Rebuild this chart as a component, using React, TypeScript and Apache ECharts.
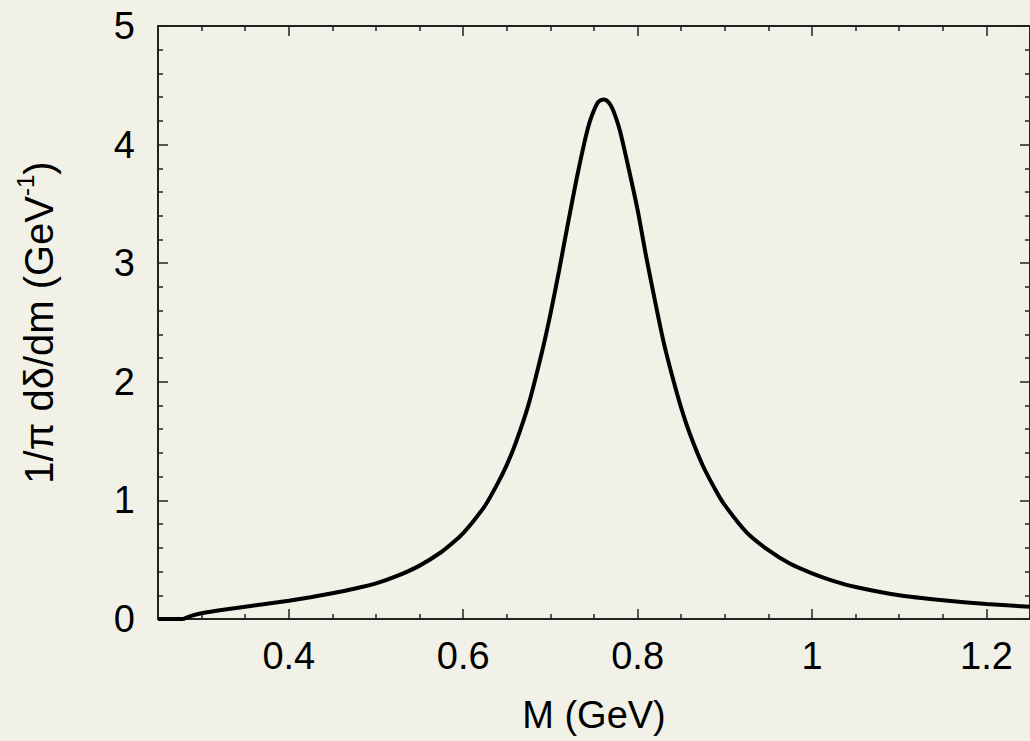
import React, { useEffect, useRef } from "react";
import * as echarts from "echarts";

// Mass values (GeV) and spectral function values (GeV^-1)
const massGeV: number[] = [
  0.25, 0.27, 0.278, 0.285, 0.29, 0.30, 0.325, 0.35, 0.375, 0.40, 0.425, 0.45,
  0.475, 0.50, 0.525, 0.55, 0.575, 0.59, 0.60, 0.61, 0.625, 0.64, 0.65, 0.66,
  0.675, 0.69, 0.70, 0.71, 0.72, 0.73, 0.74, 0.745, 0.75, 0.755, 0.761, 0.765,
  0.77, 0.775, 0.78, 0.79, 0.80, 0.81, 0.82, 0.83, 0.84, 0.85, 0.86, 0.875,
  0.89, 0.90, 0.925, 0.95, 0.975, 1.00, 1.025, 1.05, 1.10, 1.15, 1.20, 1.25,
];
const spectral: number[] = [
  0, 0, 0, 0.018, 0.03, 0.048, 0.078, 0.104, 0.128, 0.154, 0.184, 0.217,
  0.255, 0.30, 0.365, 0.45, 0.565, 0.655, 0.725, 0.81, 0.955, 1.15, 1.30, 1.48,
  1.81, 2.24, 2.57, 2.94, 3.33, 3.71, 4.05, 4.19, 4.29, 4.36, 4.38, 4.37,
  4.32, 4.23, 4.11, 3.79, 3.45, 3.05, 2.68, 2.33, 2.04, 1.78, 1.56, 1.29,
  1.08, 0.96, 0.73, 0.58, 0.465, 0.385, 0.32, 0.27, 0.20, 0.158, 0.126, 0.103,
];

const xMajorTicks: number[] = [0.4, 0.6, 0.8, 1.0, 1.2];
const xMinorTicks: number[] = [
  0.3, 0.35, 0.45, 0.5, 0.55, 0.65, 0.7, 0.75, 0.85, 0.9, 0.95, 1.05, 1.1, 1.15,
];
const xTitle = "M (GeV)";

const FONT = "'Liberation Sans', Arial, Helvetica, sans-serif";
const BG = "#f2f1e7";
const AXIS_COLOR = "#222";

export default function App() {
  const ref = useRef<HTMLDivElement>(null);

  useEffect(() => {
    if (!ref.current) return;
    const chart = echarts.init(ref.current, undefined, { renderer: "svg" });
    const data = massGeV.map((m, i) => [m, spectral[i]]);

    const xBase = {
      type: "value" as const,
      min: 0.25,
      max: 1.25,
      splitLine: { show: false },
      axisLine: { show: false, lineStyle: { color: AXIS_COLOR, width: 2 } },
      axisLabel: { show: false },
    };

    const option: any = {
      animation: false,
      backgroundColor: BG,
      textStyle: { fontFamily: FONT },
      grid: { left: 158, top: 26, right: -5, bottom: 122 },
      xAxis: [
        {
          ...xBase,
          position: "bottom",
          axisLine: { show: true, lineStyle: { color: AXIS_COLOR, width: 2 } },
          axisTick: {
            show: true,
            inside: true,
            length: 10,
            customValues: xMajorTicks,
            lineStyle: { color: AXIS_COLOR, width: 1.5 },
          },
          axisLabel: {
            show: true,
            customValues: xMajorTicks,
            fontSize: 38,
            color: "#000",
            fontFamily: FONT,
            margin: 18,
          },
          name: xTitle,
          nameLocation: "middle",
          nameGap: 77,
          nameTextStyle: { fontSize: 38, color: "#000", fontFamily: FONT },
        },
        {
          ...xBase,
          position: "bottom",
          axisTick: {
            show: true,
            inside: true,
            length: 5,
            customValues: xMinorTicks,
            lineStyle: { color: AXIS_COLOR, width: 1.5 },
          },
        },
        {
          ...xBase,
          position: "top",
          axisLine: { show: true, lineStyle: { color: AXIS_COLOR, width: 2 } },
          axisTick: {
            show: true,
            inside: true,
            length: 10,
            customValues: xMajorTicks,
            lineStyle: { color: AXIS_COLOR, width: 1.5 },
          },
        },
        {
          ...xBase,
          position: "top",
          axisTick: {
            show: true,
            inside: true,
            length: 5,
            customValues: xMinorTicks,
            lineStyle: { color: AXIS_COLOR, width: 1.5 },
          },
        },
      ],
      yAxis: [
        {
          type: "value",
          position: "left",
          min: 0,
          max: 5,
          interval: 1,
          splitLine: { show: false },
          axisLine: { show: true, lineStyle: { color: AXIS_COLOR, width: 2 } },
          axisTick: {
            show: true,
            inside: true,
            length: 10,
            lineStyle: { color: AXIS_COLOR, width: 1.5 },
          },
          minorTick: {
            show: true,
            splitNumber: 5,
            length: 5,
            lineStyle: { color: AXIS_COLOR, width: 1.5 },
          },
          minorSplitLine: { show: false },
          axisLabel: {
            fontSize: 38,
            color: "#000",
            fontFamily: FONT,
            margin: 23,
          },
          name: "{m|1/π dδ/dm (GeV}{s|-1}{m|)}",
          nameLocation: "middle",
          nameGap: 93,
          nameRotate: 90,
          nameTextStyle: {
            fontFamily: FONT,
            color: "#000",
            rich: {
              m: { fontSize: 40, lineHeight: 52, fontFamily: FONT, color: "#000" },
              s: {
                fontSize: 24,
                lineHeight: 24,
                verticalAlign: "top",
                fontFamily: FONT,
                color: "#000",
              },
            },
          },
        },
        {
          type: "value",
          position: "right",
          min: 0,
          max: 5,
          interval: 1,
          splitLine: { show: false },
          axisLine: { show: true, lineStyle: { color: AXIS_COLOR, width: 2 } },
          axisTick: {
            show: true,
            inside: true,
            length: 10,
            lineStyle: { color: AXIS_COLOR, width: 1.5 },
          },
          minorTick: {
            show: true,
            splitNumber: 5,
            length: 5,
            lineStyle: { color: AXIS_COLOR, width: 1.5 },
          },
          axisLabel: { show: false },
        },
      ],
      series: [
        {
          type: "line",
          xAxisIndex: 0,
          yAxisIndex: 0,
          data,
          showSymbol: false,
          smooth: 0.25,
          lineStyle: { color: "#000", width: 4 },
          silent: true,
        },
      ],
    };

    chart.setOption(option);
    return () => chart.dispose();
  }, []);

  return (
    <div
      ref={ref}
      style={{
        position: "absolute",
        left: 0,
        top: 0,
        width: 1030,
        height: 741,
        overflow: "hidden",
      }}
    />
  );
}
